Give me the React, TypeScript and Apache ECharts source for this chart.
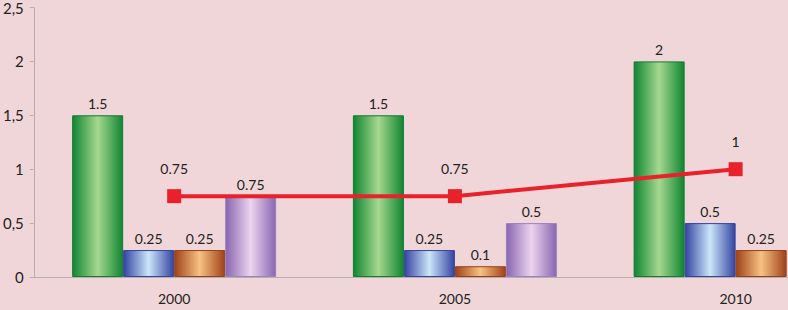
import React, { useEffect, useRef } from "react";
import * as echarts from "echarts";

const categories = ["2000", "2005", "2010"];
const greenValues = [1.5, 1.5, 2];
const blueValues = [0.25, 0.25, 0.5];
const orangeValues = [0.25, 0.1, 0.25];
const purpleValues: (number | string)[] = [0.75, 0.5, "-"];
const lineValues = [0.75, 0.75, 1];
const yTicks = [0, 0.5, 1, 1.5, 2, 2.5];

function grad(edge: string, mid: string) {
  return new echarts.graphic.LinearGradient(0, 0, 1, 0, [
    { offset: 0, color: edge },
    { offset: 0.5, color: mid },
    { offset: 1, color: edge },
  ]);
}

export default function App() {
  const ref = useRef<HTMLDivElement>(null);
  useEffect(() => {
    if (!ref.current) return;
    const chart = echarts.init(ref.current, undefined, { renderer: "svg" });
    const labelStyle = {
      show: true,
      position: "top" as const,
      color: "#222",
      fontSize: 14,
      fontFamily: "Lato",
      distance: 5,
    };
    const barSeries = (name: string, data: any[], edge: string, mid: string, border: string) => ({
      name,
      type: "bar",
      data,
      barWidth: 51,
      barGap: "0%",
      itemStyle: { color: grad(edge, mid), borderColor: border, borderWidth: 1 },
      label: labelStyle,
    });
    chart.setOption({
      animation: false,
      backgroundColor: "#f0d6d8",
      grid: { left: 33, top: 6, width: 843, bottom: 33, containLabel: false },
      xAxis: {
        type: "category",
        data: categories,
        axisLine: { lineStyle: { color: "#b8aeb0", width: 1 } },
        axisTick: { show: false },
        axisLabel: { color: "#222", fontSize: 14, fontFamily: "Lato", margin: 14 },
      },
      yAxis: {
        type: "value",
        min: yTicks[0],
        max: yTicks[yTicks.length - 1],
        interval: 0.5,
        splitLine: { show: false },
        axisLine: { show: true, lineStyle: { color: "#b8aeb0", width: 1 } },
        axisTick: { show: true, length: 4, lineStyle: { color: "#b8aeb0" } },
        axisLabel: {
          color: "#222",
          fontSize: 15,
          fontFamily: "Lato",
          margin: 10,
          formatter: (v: number) => String(v).replace(".", ","),
        },
      },
      series: [
        barSeries("A", greenValues, "#108632", "#a6d890", "#137a30"),
        barSeries("B", blueValues, "#3444a2", "#cbe6fa", "#34449a"),
        barSeries("C", orangeValues, "#a0421a", "#f7c282", "#93401a"),
        barSeries("D", purpleValues, "#8866b0", "#ecd4ee", "#9a82c0"),
        {
          name: "L",
          type: "line",
          data: lineValues,
          z: 5,
          symbol: "rect",
          symbolSize: 14,
          lineStyle: { color: "#e8212b", width: 4 },
          itemStyle: { color: "#e8212b" },
          label: { ...labelStyle, distance: 14 },
        },
      ],
    });
    return () => chart.dispose();
  }, []);
  return (
    <div style={{ position: "fixed", left: 0, top: 0, width: 788, height: 310, overflow: "hidden" }}>
      <div ref={ref} style={{ width: 900, height: 310 }} />
    </div>
  );
}
